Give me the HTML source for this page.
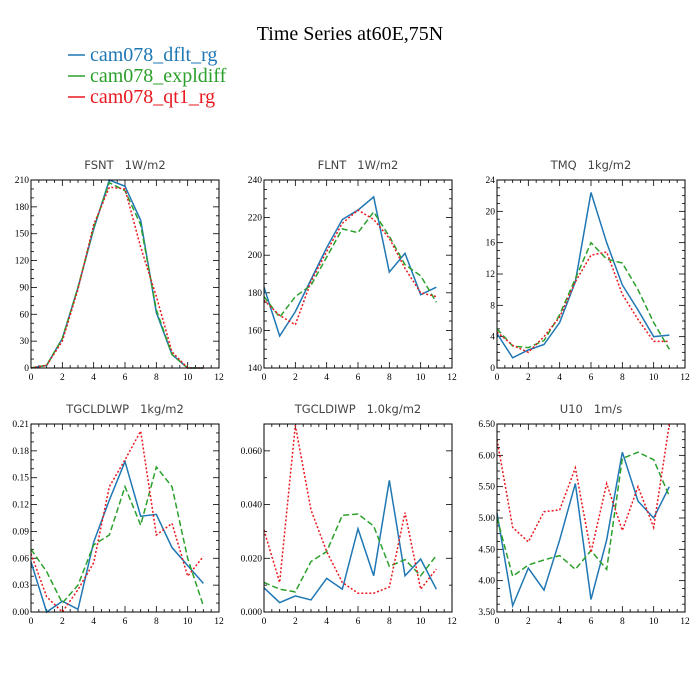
<!DOCTYPE html>
<html><head><meta charset="utf-8">
<style>
body{margin:0;background:#fff;}
svg{display:block;}
.tl{font-family:"Liberation Serif",serif;font-size:9.5px;fill:#000;}
.st{font-family:"DejaVu Sans","Liberation Sans",sans-serif;font-size:11.5px;fill:#444;white-space:pre;}
</style></head>
<body>
<svg id="chart" width="700" height="700" xmlns="http://www.w3.org/2000/svg">
<text x="350" y="40" text-anchor="middle" font-family="Liberation Serif,serif" font-size="20">Time Series at60E,75N</text>
<g>
<line x1="68" y1="55" x2="85" y2="55" stroke="#1f77b4" stroke-width="1.5"/>
<text x="90" y="61" font-family="Liberation Serif,serif" font-size="20" fill="#1f77b4">cam078_dflt_rg</text>
<line x1="68" y1="76" x2="85" y2="76" stroke="#2ca02c" stroke-width="1.5"/>
<text x="90" y="82" font-family="Liberation Serif,serif" font-size="20" fill="#2ca02c">cam078_expldiff</text>
<line x1="68" y1="97" x2="85" y2="97" stroke="#e8191f" stroke-width="1.5"/>
<text x="90" y="103" font-family="Liberation Serif,serif" font-size="20" fill="#e8191f">cam078_qt1_rg</text>
</g>
</svg>
<script>
const months=[0,1,2,3,4,5,6,7,8,9,10,11];
const xTicks=[0,2,4,6,8,10,12];
const fsntBlue=[0,3,33,90,155,210,203,165,62,15,0,0];
const fsntGreen=[0,3,33,90,157,207,198,160,65,15,0,0];
const fsntRed=[0,3,30,88,160,202,200,135,80,18,0,0];
const flntBlue=[183,157,170,187,204,219,224,231,191,201,179,183];
const flntGreen=[178,167,178,184,199,214,212,223,210,195,189,175];
const flntRed=[176,168,163,186,202,217,224,219,209,193,180,178];
const tmqBlue=[4.4,1.3,2.3,3,5.8,11,22.4,16,10.6,7.4,4,4.2];
const tmqGreen=[5,2.8,2.6,3.5,6.8,11.4,16,13.9,13.4,10,5.8,2.4];
const tmqRed=[4.6,2.9,2,4,6.5,11,14.4,14.8,9.4,6.2,3.4,3.4];
const lwpBlue=[0.056,0,0.012,0.003,0.078,0.125,0.168,0.107,0.109,0.072,0.052,0.032];
const lwpGreen=[0.07,0.045,0.01,0.03,0.075,0.086,0.14,0.097,0.162,0.14,0.06,0.007];
const lwpRed=[0.065,0.017,0,0.025,0.055,0.14,0.17,0.202,0.086,0.099,0.04,0.062];
const iwpBlue=[0.009,0.0035,0.006,0.0045,0.0125,0.0085,0.031,0.0135,0.049,0.0135,0.0197,0.0085];
const iwpGreen=[0.011,0.0085,0.0075,0.0188,0.0225,0.036,0.0365,0.032,0.017,0.0195,0.0135,0.021];
const iwpRed=[0.0305,0.011,0.0695,0.038,0.0225,0.011,0.007,0.007,0.0093,0.037,0.0085,0.016];
const u10Blue=[5.08,3.6,4.2,3.85,4.65,5.55,3.7,4.65,6.05,5.27,5.0,5.5];
const u10Green=[5.0,4.07,4.25,4.33,4.4,4.18,4.48,4.18,5.95,6.05,5.93,5.35];
const u10Red=[6.25,4.85,4.62,5.1,5.13,5.8,4.45,5.55,4.8,5.5,4.85,6.5];
const fsntTicks=["0","30","60","90","120","150","180","210"];
const flntTicks=["140","160","180","200","220","240"];
const tmqTicks=["0","4","8","12","16","20","24"];
const lwpTicks=["0.00","0.03","0.06","0.09","0.12","0.15","0.18","0.21"];
const iwpTicks=["0.000","0.020","0.040","0.060"];
const u10Ticks=["3.50","4.00","4.50","5.00","5.50","6.00","6.50"];

const NS="http://www.w3.org/2000/svg";
const svg=document.getElementById('chart');
function mk(tag,attrs,parent){const e=document.createElementNS(NS,tag);for(const k in attrs)e.setAttribute(k,attrs[k]);parent.appendChild(e);return e;}

function panel(name,title,x0,y0,ymin,ymax,ticks,minorPer,series){
  const w=188,h=188;
  const g=mk('g',{},svg);
  
  
  const sx=v=>x0+(v-0)/12*w;
  const sy=v=>y0+h-(v-ymin)/(ymax-ymin)*h;
  const t=mk('text',{x:x0+w/2,y:y0-11,'text-anchor':'middle',class:'st'},g);
  t.textContent=title;
  
  
  for(let v=0;v<=12;v+=0.5){
    const major=(v%2===0);const L=major?6:3;
    mk('line',{x1:sx(v),y1:y0+h,x2:sx(v),y2:y0+h-L,stroke:'#000','stroke-width':0.8},g);
    mk('line',{x1:sx(v),y1:y0,x2:sx(v),y2:y0+L,stroke:'#000','stroke-width':0.8},g);
  }
  xTicks.forEach(v=>{const tx=mk('text',{x:sx(v),y:y0+h+12,'text-anchor':'middle',class:'tl'},g);tx.textContent=v;
    
    });
  const n=ticks.length-1;
  const vmax=parseFloat(ticks[n]),vmin=parseFloat(ticks[0]);
  const step=(vmax-vmin)/n;
  for(let i=0;i<=n*minorPer;i++){
    const v=vmin+i*step/minorPer;const major=(i%minorPer===0);const L=major?6:3;
    mk('line',{x1:x0,y1:sy(v),x2:x0+L,y2:sy(v),stroke:'#000','stroke-width':0.8},g);
    mk('line',{x1:x0+w,y1:sy(v),x2:x0+w-L,y2:sy(v),stroke:'#000','stroke-width':0.8},g);
  }
  ticks.forEach(s=>{const v=parseFloat(s);const ty=mk('text',{x:x0-2,y:sy(v)+3,'text-anchor':'end',class:'tl'},g);ty.textContent=s;
    
    });
  const styles=[['#1f77b4','',' blue'],['#2ca02c','6,3',' green'],['#e8191f','2,2',' red']];
  series.forEach((d,i)=>{
    const pts=months.map((m,j)=>sx(m)+','+sy(d[j])).join(' ');
    const p=mk('polyline',{points:pts,fill:'none',stroke:styles[i][0],'stroke-width':1.5},g);
    if(styles[i][1])p.setAttribute('stroke-dasharray',styles[i][1]);
    
    
  });
  mk('rect',{x:x0,y:y0,width:w,height:h,fill:'none',stroke:'#000','stroke-width':1},g);
}
panel('fsnt','FSNT   1W/m2',31,180,0,210,fsntTicks,3,[fsntBlue,fsntGreen,fsntRed]);
panel('flnt','FLNT   1W/m2',264,180,140,240,flntTicks,4,[flntBlue,flntGreen,flntRed]);
panel('tmq','TMQ   1kg/m2',497,180,0,24,tmqTicks,4,[tmqBlue,tmqGreen,tmqRed]);
panel('tgcldlwp','TGCLDLWP   1kg/m2',31,424,0,0.21,lwpTicks,3,[lwpBlue,lwpGreen,lwpRed]);
panel('tgcldiwp','TGCLDIWP   1.0kg/m2',264,424,0,0.07,iwpTicks,2,[iwpBlue,iwpGreen,iwpRed]);
panel('u10','U10   1m/s',497,424,3.5,6.5,u10Ticks,4,[u10Blue,u10Green,u10Red]);
</script>
</body></html>
